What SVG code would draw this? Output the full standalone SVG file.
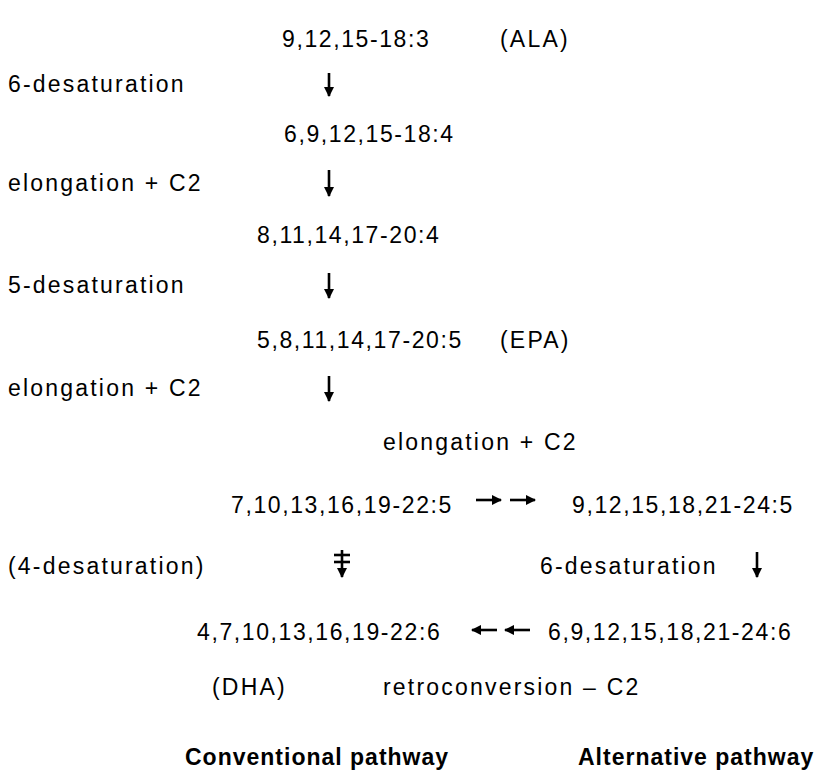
<svg xmlns="http://www.w3.org/2000/svg" width="825" height="783" viewBox="0 0 825 783">
<defs>
<style>
text{font-family:"Liberation Sans",Arial,Helvetica,sans-serif;font-size:23px;fill:#000;letter-spacing:2.2px}
.n{letter-spacing:1.6px}
.b{font-weight:bold;letter-spacing:1px}
.c{stroke:#000;stroke-width:2.6;fill:none}
</style>
<marker id="ah" viewBox="0 0 10 10" refX="9" refY="5" markerWidth="4" markerHeight="4" orient="auto" markerUnits="strokeWidth">
<path d="M0,0 L10,5 L0,10 z" fill="#000"/>
</marker>
</defs>
<rect width="825" height="783" fill="#fff"/>
<g id="ala"><text class="n" x="282" y="47">9,12,15-18:3</text><text x="500" y="47">(ALA)</text></g>
<g id="lab1"><text x="8" y="92">6-desaturation</text></g>
<g id="n2"><text class="n" x="284" y="142">6,9,12,15-18:4</text></g>
<g id="lab2"><text x="8" y="191">elongation + C2</text></g>
<g id="n3"><text class="n" x="257" y="243">8,11,14,17-20:4</text></g>
<g id="lab3"><text x="8" y="293">5-desaturation</text></g>
<g id="epa"><text class="n" x="257" y="348">5,8,11,14,17-20:5</text><text x="500" y="348">(EPA)</text></g>
<g id="lab4"><text x="8" y="396">elongation + C2</text></g>
<g id="lab5"><text x="383" y="450">elongation + C2</text></g>
<g id="n5"><text class="n" x="231" y="513">7,10,13,16,19-22:5</text></g>
<g id="n6"><text class="n" x="572" y="513">9,12,15,18,21-24:5</text></g>
<g id="lab6"><text x="8" y="574">(4-desaturation)</text></g>
<g id="lab7"><text x="540" y="574">6-desaturation</text></g>
<g id="dha"><text class="n" x="197" y="640">4,7,10,13,16,19-22:6</text></g>
<g id="n7"><text class="n" x="548" y="640">6,9,12,15,18,21-24:6</text></g>
<g id="lab8"><text x="212" y="695">(DHA)</text><text x="383" y="695">retroconversion – C2</text></g>
<g id="legend"><text class="b" x="185" y="765">Conventional pathway</text><text class="b" x="578" y="765">Alternative pathway</text></g>
<g id="connectors">
<line class="c" x1="329" y1="73" x2="329" y2="96" marker-end="url(#ah)"/>
<line class="c" x1="329" y1="170" x2="329" y2="196" marker-end="url(#ah)"/>
<line class="c" x1="329" y1="273" x2="329" y2="298" marker-end="url(#ah)"/>
<line class="c" x1="329" y1="376" x2="329" y2="401" marker-end="url(#ah)"/>
<line class="c" x1="476" y1="500" x2="501" y2="500" marker-end="url(#ah)"/>
<line class="c" x1="510" y1="500" x2="535" y2="500" marker-end="url(#ah)"/>
<line class="c" x1="342" y1="550" x2="342" y2="577" marker-end="url(#ah)"/>
<line class="c" x1="334" y1="555" x2="350" y2="555"/>
<line class="c" x1="334" y1="562" x2="350" y2="562"/>
<line class="c" x1="757" y1="552" x2="757" y2="577" marker-end="url(#ah)"/>
<line class="c" x1="497" y1="630" x2="472" y2="630" marker-end="url(#ah)"/>
<line class="c" x1="530" y1="630" x2="505" y2="630" marker-end="url(#ah)"/>
</g>
</svg>
